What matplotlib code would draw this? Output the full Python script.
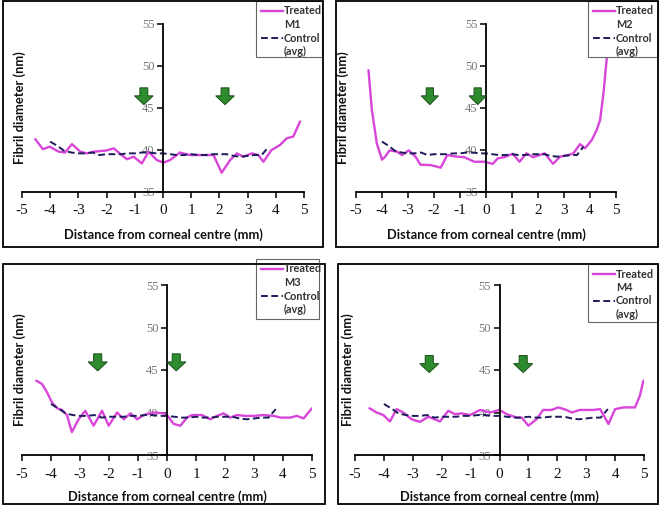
import matplotlib
matplotlib.use("Agg")
import matplotlib.pyplot as plt
from matplotlib.patches import Rectangle
from matplotlib.lines import Line2D

plt.rcParams["axes.unicode_minus"] = False

# ---------------- data ----------------
x_ticks = [-5, -4, -3, -2, -1, 0, 1, 2, 3, 4, 5]
y_ticks = [35, 40, 45, 50, 55]

control_x = [-4.0, -3.75, -3.5, -3.25, -3.0, -2.75, -2.5, -2.25, -2.0, -1.75, -1.5, -1.25,
             -1.0, -0.75, -0.5, -0.25, 0.0, 0.25, 0.5, 0.75, 1.0, 1.25, 1.5, 1.75, 2.0,
             2.25, 2.5, 2.75, 3.0, 3.25, 3.5, 3.75]
control_y = [41.0, 40.5, 39.9, 39.7, 39.6, 39.6, 39.7, 39.4, 39.5, 39.5, 39.5, 39.6,
             39.6, 39.7, 39.7, 39.6, 39.6, 39.5, 39.4, 39.4, 39.5, 39.4, 39.4, 39.5, 39.5,
             39.5, 39.3, 39.2, 39.3, 39.4, 39.4, 40.4]

m1_x = [-4.53, -4.26, -4.02, -3.7, -3.47, -3.23, -2.93, -2.7, -2.46, -1.99, -1.75, -1.52,
        -1.28, -1.04, -0.75, -0.51, -0.22, 0.02, 0.25, 0.6, 0.96, 1.32, 1.79, 2.08, 2.38,
        2.62, 2.85, 3.15, 3.38, 3.56, 3.85, 4.15, 4.39, 4.62, 4.86]
m1_y = [41.3, 40.1, 40.4, 39.8, 39.7, 40.7, 39.8, 39.6, 39.8, 39.95, 40.2, 39.55,
        38.9, 39.2, 38.4, 39.8, 38.8, 38.5, 38.8, 39.7, 39.4, 39.4, 39.4, 37.3, 38.8,
        39.6, 39.2, 39.6, 39.4, 38.6, 40.0, 40.6, 41.4, 41.6, 43.4]

m2_x = [-4.52, -4.39, -4.2, -4.0, -3.88, -3.71, -3.42, -3.23, -2.97, -2.71, -2.52, -2.13,
        -1.74, -1.49, -1.1, -0.84, -0.45, -0.06, 0.26, 0.45, 0.71, 1.03, 1.29, 1.55, 1.81,
        2.07, 2.26, 2.58, 2.84, 3.17, 3.36, 3.62, 3.81, 4.07, 4.26, 4.39, 4.52, 4.65, 4.74]
m2_y = [49.5, 44.8, 40.8, 38.85, 39.2, 39.95, 39.8, 39.4, 39.95, 39.2, 38.25, 38.2,
        37.9, 39.4, 39.2, 39.15, 38.6, 38.6, 38.35, 39.0, 39.15, 39.55, 38.6, 39.6, 39.15,
        39.4, 39.6, 38.35, 39.2, 39.4, 39.6, 40.7, 40.2, 41.2, 42.4, 43.6, 46.8, 51.1, 53.9]

m3_x = [-4.51, -4.31, -4.14, -3.97, -3.79, -3.62, -3.45, -3.28, -3.05, -2.82, -2.53, -2.24,
        -2.01, -1.72, -1.49, -1.26, -1.03, -0.8, -0.46, -0.11, 0.0, 0.23, 0.46, 0.69, 0.86,
        1.21, 1.49, 1.72, 1.95, 2.18, 2.41, 2.7, 2.99, 3.33, 3.68, 3.91, 4.25, 4.48, 4.71, 5.0]
m3_y = [43.75, 43.35, 42.4, 41.2, 40.5, 40.3, 39.7, 37.7, 39.2, 40.2, 38.45, 40.2,
        38.45, 40.0, 39.2, 39.9, 39.2, 39.7, 40.0, 39.9, 39.7, 38.65, 38.45, 39.4, 39.7,
        39.7, 39.2, 39.6, 39.9, 39.4, 39.7, 39.6, 39.6, 39.7, 39.6, 39.4, 39.4, 39.6, 39.3, 40.5]

m4_x = [-4.5, -4.25, -4.02, -3.79, -3.56, -3.33, -3.04, -2.75, -2.46, -2.06, -1.77, -1.54,
        -1.31, -1.02, -0.67, -0.33, 0.0, 0.25, 0.6, 0.77, 1.0, 1.28, 1.51, 1.8, 2.03,
        2.32, 2.5, 2.78, 3.25, 3.48, 3.6, 3.77, 4.0, 4.29, 4.69, 4.86, 4.98]
m4_y = [40.5, 40.0, 39.7, 38.95, 40.4, 40.0, 39.2, 38.9, 39.5, 38.95, 40.2, 39.8,
        39.9, 39.7, 40.3, 40.0, 40.3, 39.8, 39.4, 39.4, 38.45, 39.2, 40.3, 40.3, 40.6,
        40.3, 40.0, 40.3, 40.3, 40.4, 39.7, 38.65, 40.4, 40.6, 40.6, 42.0, 43.75]

treated_names = ["M1", "M2", "M3", "M4"]
treated_x = [m1_x, m2_x, m3_x, m4_x]
treated_y = [m1_y, m2_y, m3_y, m4_y]
arrow_x = [[-0.68, 2.2], [-2.16, -0.32], [-2.39, 0.32], [-2.43, 0.82]]
arrow_top = [47.4, 47.4, 46.9, 46.7]

# ---------------- layout (pixels) ----------------
W, H = 660, 513
axes_px = [(22, 24, 304, 192), (356, 24, 616, 192), (22, 285, 312, 455), (355, 285, 644, 455)]
border_px = [(3, 1, 323, 247), (336, 1, 658, 247), (3, 264, 325, 504), (338, 264, 658, 504)]
legend_px = [(256, 1, 322, 57), (588, 1, 658, 57), (256, 259, 319, 319), (588, 264, 658, 322)]
ylabel_px = [20, 343, 20, 348]
xlabel_py = [235, 235, 497, 497]

TREATED_C = "#d845d8"
CONTROL_C = "#1c1c5c"
ARROW_FC = "#2e8b2e"
ARROW_EC = "#174f17"

fig = plt.figure(figsize=(W / 100, H / 100), dpi=100)
fig.patch.set_facecolor("white")


def fx(px):
    return px / W


def fy(py):
    return 1 - py / H


label_font = dict(family="Lato", weight="bold", size=9.3, color="#111111")

for i in range(4):
    x0, y0, x1, y1 = axes_px[i]
    ax = fig.add_axes([fx(x0), fy(y1), (x1 - x0) / W, (y1 - y0) / H])
    ax.set_facecolor("none")
    ax.plot(treated_x[i], treated_y[i], color=TREATED_C, lw=1.7, solid_capstyle="round")
    ax.plot(control_x, control_y, color=CONTROL_C, lw=1.4, dashes=(3.5, 1.8))
    for ax_x in arrow_x[i]:
        ax.arrow(ax_x, arrow_top[i], 0, -2.0, width=0.28, head_width=0.66,
                 head_length=1.05, length_includes_head=True,
                 fc=ARROW_FC, ec=ARROW_EC, lw=0.7, zorder=3)
    ax.set_xlim(-5, 5)
    ax.set_ylim(35, 55)
    ax.set_xticks(x_ticks)
    ax.set_yticks(y_ticks)
    ax.spines["top"].set_visible(False)
    ax.spines["right"].set_visible(False)
    ax.spines["left"].set_position(("data", 0))
    for s in ("left", "bottom"):
        ax.spines[s].set_linewidth(1.3)
    ax.tick_params(axis="x", direction="out", length=4, width=1.1, pad=5,
                   labelsize=11, labelcolor="#111111", labelfontfamily="Liberation Serif")
    ax.tick_params(axis="y", direction="out", length=4, width=1.1, pad=2,
                   labelsize=9, labelcolor="#777777", labelfontfamily="Liberation Serif")

    fig.text(fx(ylabel_px[i]), fy((y0 + y1) / 2), "Fibril diameter (nm)", rotation=90,
             ha="center", va="center", **label_font)
    fig.text(fx((x0 + x1) / 2), fy(xlabel_py[i]), "Distance from corneal centre (mm)",
             ha="center", va="center", **label_font)

    bx0, by0, bx1, by1 = border_px[i]
    fig.add_artist(Rectangle((fx(bx0), fy(by1)), (bx1 - bx0) / W, (by1 - by0) / H,
                             transform=fig.transFigure, fill=False, ec="black", lw=1.3,
                             zorder=5))

    lx0, ly0, lx1, ly1 = legend_px[i]
    fig.add_artist(Rectangle((fx(lx0), fy(ly1)), (lx1 - lx0) / W, (ly1 - ly0) / H,
                             transform=fig.transFigure, fc="white", ec="#666666", lw=0.8,
                             zorder=4))
    leg_font = dict(family="Lato", weight="bold", size=7.8, color="#333333",
                    ha="left", va="center", zorder=6)
    hx0, hx1, tx = lx0 + 5, lx0 + 27, lx0 + 28
    fig.add_artist(Line2D([fx(hx0), fx(hx1)], [fy(ly0 + 10), fy(ly0 + 10)],
                          transform=fig.transFigure, color=TREATED_C, lw=1.7, zorder=6))
    fig.add_artist(Line2D([fx(hx0), fx(hx1)], [fy(ly0 + 37), fy(ly0 + 37)],
                          transform=fig.transFigure, color=CONTROL_C, lw=1.4,
                          dashes=(3.5, 1.8), zorder=6))
    fig.text(fx(tx), fy(ly0 + 10), "Treated", **leg_font)
    fig.text(fx(tx), fy(ly0 + 23.5), treated_names[i], **leg_font)
    fig.text(fx(tx), fy(ly0 + 37), "Control", **leg_font)
    fig.text(fx(tx), fy(ly0 + 50.5), "(avg)", **leg_font)

fig.savefig("out.png", dpi=100, facecolor="white")
